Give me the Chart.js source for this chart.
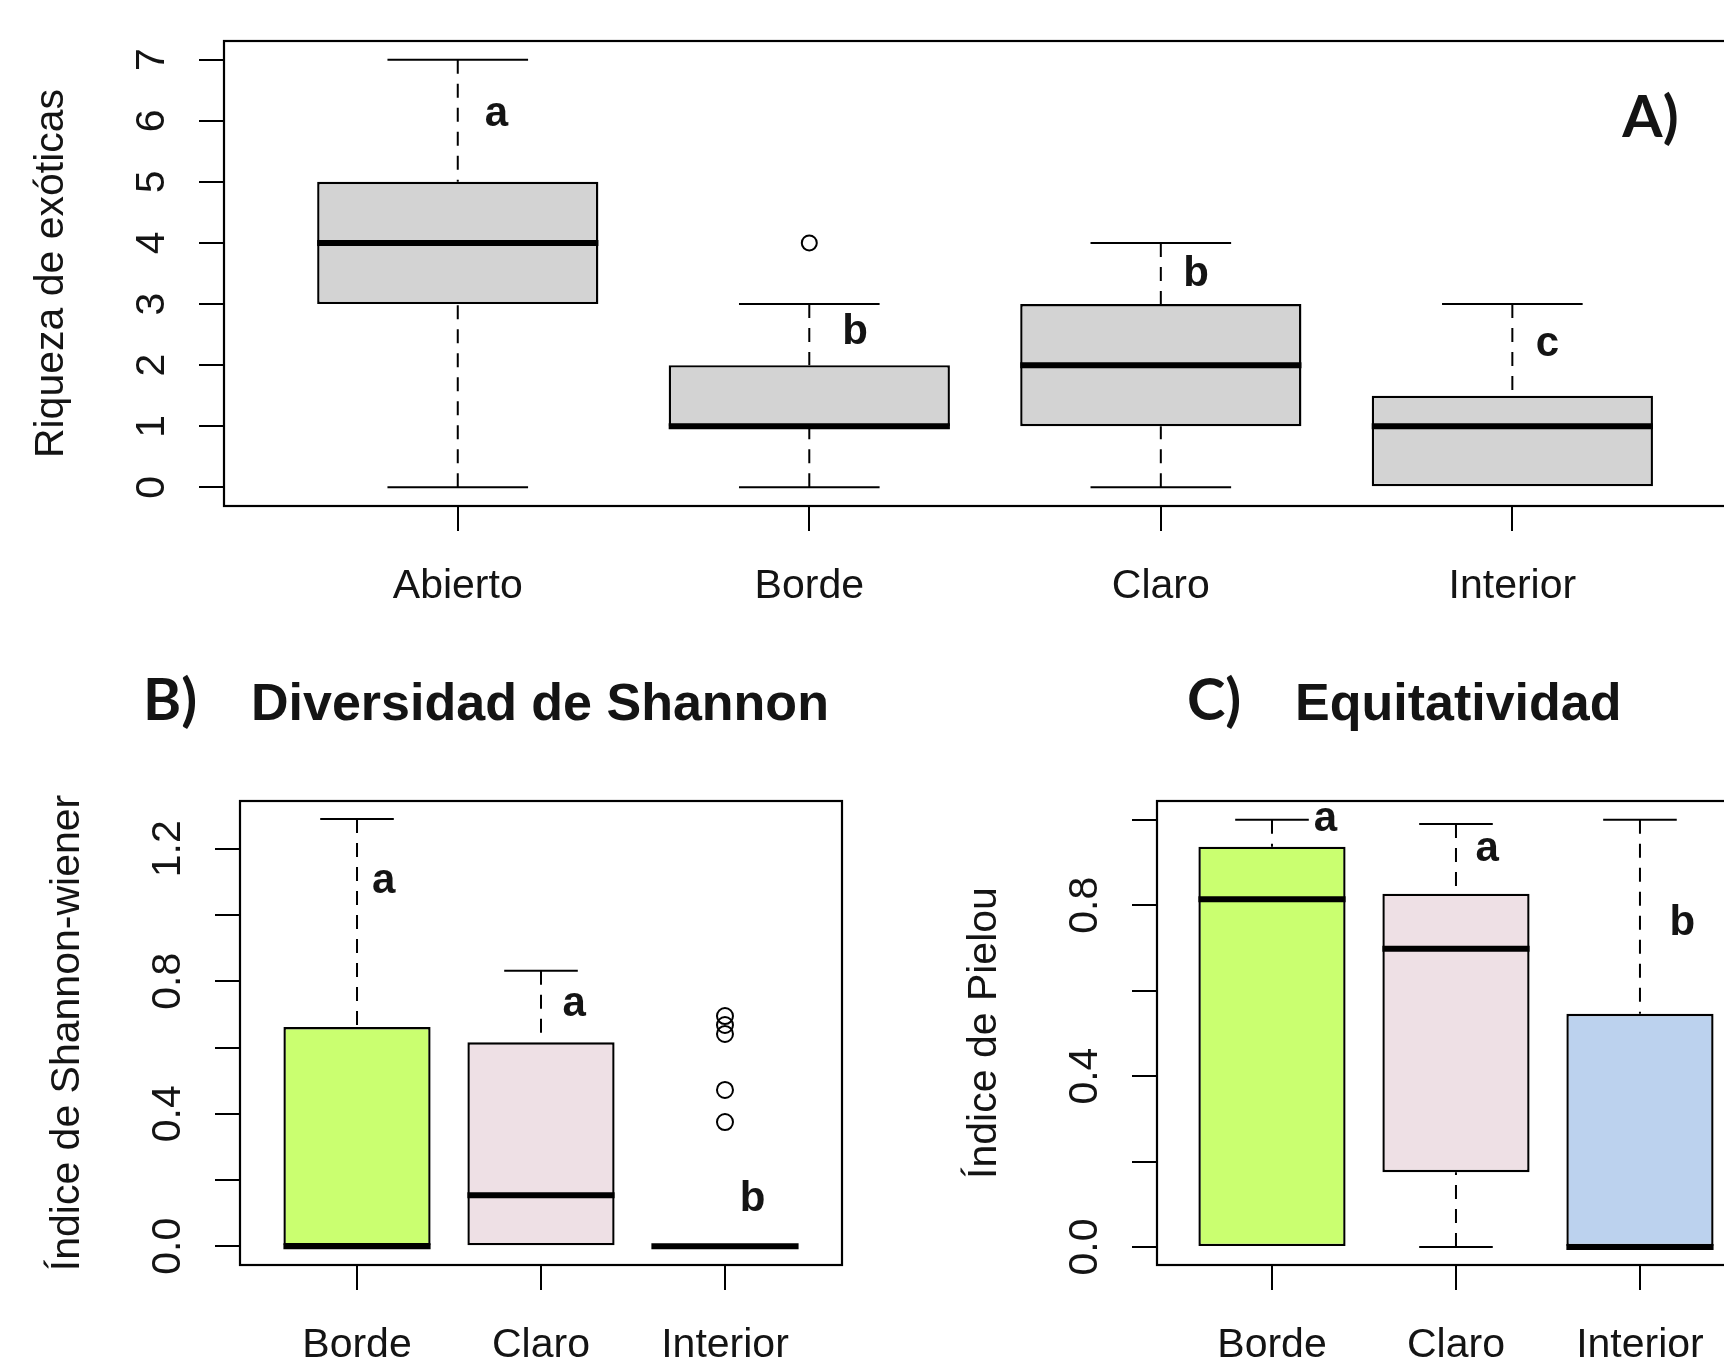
<!DOCTYPE html>
<html lang="es">
<head>
<meta charset="utf-8">
<title>Riqueza, diversidad y equitatividad</title>
<script src="https://cdn.jsdelivr.net/npm/chart.js@4.4.1/dist/chart.umd.min.js"></script>
<style>
    html, body { margin: 0; padding: 0; background: #fff; overflow: hidden; }
    #lienzo { position: relative; width: 1724px; height: 1361px; overflow: hidden; background: #fff; }
    #lienzo canvas { position: absolute; left: 0; top: 0; }
</style>
</head>
<body>
<div id="lienzo">
    <canvas id="grafA" width="1800" height="1361"></canvas>
    <canvas id="grafB" width="1800" height="1361"></canvas>
    <canvas id="grafC" width="1800" height="1361"></canvas>
</div>
<script>
// --- A) Riqueza de exóticas ---
const categoriasA = ['Abierto', 'Borde', 'Claro', 'Interior'];
const minA = [0, 0, 0, 0];
const q1A = [3, 1, 1, 0];
const medianaA = [4, 1, 2, 1];
const q3A = [5, 2, 3, 1.5];
const maxA = [7, 3, 4, 3];
const atipicosA = [[], [4], [], []];
const ticksA = [0, 1, 2, 3, 4, 5, 6, 7];
const etiquetasA = [0, 1, 2, 3, 4, 5, 6, 7];
const letrasA = ['a', 'b', 'b', 'c'];
const letrasAy = [6.1, 2.53, 3.48, 2.34];

// --- B) Diversidad de Shannon ---
const categoriasB = ['Borde', 'Claro', 'Interior'];
const minB = [0, 0, 0];
const q1B = [0, 0, 0];
const medianaB = [0, 0.154, 0];
const q3B = [0.662, 0.616, 0];
const maxB = [1.29, 0.832, 0];
const atipicosB = [[], [], [0.695, 0.668, 0.641, 0.472, 0.375]];
const ticksB = [0, 0.2, 0.4, 0.6, 0.8, 1.0, 1.2];
const etiquetasB = [0, 0.4, 0.8, 1.2];
const letrasB = ['a', 'a', 'b'];
const letrasBy = [1.10, 0.73, 0.14];

// --- C) Equitatividad ---
const categoriasC = ['Borde', 'Claro', 'Interior'];
const minC = [0, 0, 0];
const q1C = [0, 0.175, 0];
const medianaC = [0.814, 0.698, 0];
const q3C = [0.937, 0.827, 0.546];
const maxC = [1.0, 0.99, 1.0];
const atipicosC = [[], [], []];
const ticksC = [0, 0.2, 0.4, 0.6, 0.8, 1.0];
const etiquetasC = [0, 0.4, 0.8];
const letrasC = ['a', 'a', 'b'];
const letrasCy = [1.0, 0.93, 0.757];

const FUENTE = "'Liberation Sans', Arial, Helvetica, sans-serif";
const TINTA = '#141414';
const ANCHO = 1800, ALTO = 1361, ALTO_EJE_X = 30, ANCHO_EJE_Y = 40;

function linea(ctx, x1, y1, x2, y2) {
    ctx.beginPath();
    ctx.moveTo(x1, y1);
    ctx.lineTo(x2, y2);
    ctx.stroke();
}

function texto(ctx, s, x, y, fuente, opts = {}) {
    ctx.save();
    ctx.translate(x, y);
    if (opts.rot) ctx.rotate(opts.rot);
    ctx.font = fuente;
    ctx.fillStyle = opts.color || TINTA;
    ctx.textAlign = opts.align || 'center';
    ctx.textBaseline = opts.base || 'alphabetic';
    ctx.fillText(s, 0, 0);
    ctx.restore();
}

function crearPanel(id, p) {
    const n = p.categorias.length;
    const cajas = p.categorias.map((c, i) => ({ x: i + 1, y: [p.q1[i], p.q3[i]] }));
    const puntos = [];
    p.atipicos.forEach((lista, i) => lista.forEach(v => puntos.push({ x: i + 1, y: v })));

    // whiskers, medians, frame and all the text, placed through the chart's scales
    const dibujo = {
        id: 'cajas',
        afterDatasetsDraw(chart) {
            const { ctx, chartArea: a, scales: { x, y } } = chart;
            const u = x.getPixelForValue(1) - x.getPixelForValue(0);
            ctx.save();
            ctx.strokeStyle = '#000';
            ctx.lineCap = 'butt';
            for (let i = 0; i < n; i++) {
                const cx = x.getPixelForValue(i + 1);
                const yMax = y.getPixelForValue(p.max[i]);
                const yMin = y.getPixelForValue(p.min[i]);
                ctx.lineWidth = 2;
                ctx.setLineDash([14, 10]);
                if (p.max[i] > p.q3[i]) linea(ctx, cx, yMax, cx, y.getPixelForValue(p.q3[i]));
                if (p.min[i] < p.q1[i]) linea(ctx, cx, yMin, cx, y.getPixelForValue(p.q1[i]));
                ctx.setLineDash([]);
                linea(ctx, cx - 0.2 * u, yMax, cx + 0.2 * u, yMax);
                if (p.min[i] < p.q1[i]) linea(ctx, cx - 0.2 * u, yMin, cx + 0.2 * u, yMin);
                ctx.lineWidth = 6;
                const yMed = y.getPixelForValue(p.mediana[i]);
                linea(ctx, cx - 0.4 * u, yMed, cx + 0.4 * u, yMed);
            }
            ctx.lineWidth = 2.2;
            ctx.strokeRect(a.left, a.top, a.right - a.left, a.bottom - a.top);
            ctx.restore();

            const normal = '41px ' + FUENTE;
            p.etiquetas.forEach(v => {
                texto(ctx, v.toFixed(p.decimales), a.left - 60, y.getPixelForValue(v), normal,
                    { rot: -Math.PI / 2 });
            });
            texto(ctx, p.tituloY, a.left - 161, (a.top + a.bottom) / 2, normal, { rot: -Math.PI / 2 });
            p.categorias.forEach((c, i) => {
                texto(ctx, c, x.getPixelForValue(i + 1), a.bottom + 92, normal);
            });
            p.letras.forEach((l, i) => {
                texto(ctx, l, x.getPixelForValue(i + 1 + p.desplazLetras[i]), y.getPixelForValue(p.letrasY[i]),
                    'bold 42px ' + FUENTE, { base: 'middle' });
            });
            if (p.rotulo) p.rotulo(ctx, a, x);
        }
    };

    return new Chart(document.getElementById(id), {
        type: 'bar',
        data: {
            datasets: [{
                type: 'bar',
                data: cajas,
                backgroundColor: p.colores,
                borderColor: '#000',
                borderWidth: 2.4,
                borderSkipped: false,
                categoryPercentage: 1,
                barPercentage: 0.8,
                order: 2
            }, {
                type: 'scatter',
                data: puntos,
                pointStyle: 'circle',
                pointRadius: p.radio,
                pointBorderWidth: 2,
                pointBorderColor: '#000',
                pointBackgroundColor: 'rgba(0,0,0,0)',
                order: 1
            }]
        },
        options: {
            responsive: false,
            animation: false,
            devicePixelRatio: 1,
            events: [],
            layout: {
                padding: {
                    left: p.area.left - ANCHO_EJE_Y,
                    right: ANCHO - p.area.right,
                    top: p.area.top,
                    bottom: ALTO - ALTO_EJE_X - p.area.bottom
                }
            },
            plugins: { legend: { display: false }, tooltip: { enabled: false }, title: { display: false } },
            scales: {
                x: {
                    type: 'linear',
                    offset: false,
                    min: p.xMin,
                    max: p.xMax,
                    afterBuildTicks: s => { s.ticks = p.categorias.map((c, i) => ({ value: i + 1 })); },
                    afterFit: s => { s.height = ALTO_EJE_X; },
                    ticks: { display: false },
                    border: { display: false },
                    grid: { display: true, offset: false, drawOnChartArea: false, drawTicks: true, tickLength: 25,
                            tickWidth: 2, tickColor: '#000', lineWidth: 2, color: '#000' }
                },
                y: {
                    type: 'linear',
                    min: p.yMin,
                    max: p.yMax,
                    afterBuildTicks: s => { s.ticks = p.ticks.map(v => ({ value: v })); },
                    afterFit: s => { s.width = ANCHO_EJE_Y; },
                    ticks: { display: false },
                    border: { display: false },
                    grid: { display: true, drawOnChartArea: false, drawTicks: true, tickLength: 25,
                            tickWidth: 2, tickColor: '#000', lineWidth: 2, color: '#000' }
                }
            }
        },
        plugins: [dibujo]
    });
}

function rotuloPanel(letra, titulo) {
    return (ctx, a) => {
        texto(ctx, letra, a.left - 97, a.top - 81, "bold 58px Lato, 'Open Sans', sans-serif", { align: 'left' });
        texto(ctx, titulo, a.left + 11, a.top - 81, 'bold 52px ' + FUENTE, { align: 'left' });
    };
}

crearPanel('grafA', {
    categorias: categoriasA, min: minA, q1: q1A, mediana: medianaA, q3: q3A, max: maxA,
    atipicos: atipicosA, ticks: ticksA, etiquetas: etiquetasA, decimales: 0,
    letras: letrasA, letrasY: letrasAy, desplazLetras: [0.11, 0.13, 0.10, 0.10],
    colores: '#D3D3D3', radio: 7.5,
    tituloY: 'Riqueza de exóticas',
    area: { left: 224, right: 1744, top: 41, bottom: 506 },
    xMin: 0.335, xMax: 4.659, yMin: -0.305, yMax: 7.305,
    rotulo: (ctx, a, x) => {
        texto(ctx, 'A)', x.getPixelForValue(4) + 110, a.top + 96, "bold 58px Lato, 'Open Sans', sans-serif", { align: 'left' });
    }
});

crearPanel('grafB', {
    categorias: categoriasB, min: minB, q1: q1B, mediana: medianaB, q3: q3B, max: maxB,
    atipicos: atipicosB, ticks: ticksB, etiquetas: etiquetasB, decimales: 1,
    letras: letrasB, letrasY: letrasBy, desplazLetras: [0.145, 0.18, 0.15],
    colores: ['#CAFF70', '#EEE0E5', '#BCD2EE'], radio: 8,
    tituloY: 'Índice de Shannon-wiener',
    area: { left: 240, right: 842, top: 801, bottom: 1265 },
    xMin: 0.364, xMax: 3.636, yMin: -0.0565, yMax: 1.3442,
    rotulo: rotuloPanel('B)', 'Diversidad de Shannon')
});

crearPanel('grafC', {
    categorias: categoriasC, min: minC, q1: q1C, mediana: medianaC, q3: q3C, max: maxC,
    atipicos: atipicosC, ticks: ticksC, etiquetas: etiquetasC, decimales: 1,
    letras: letrasC, letrasY: letrasCy, desplazLetras: [0.29, 0.17, 0.23],
    colores: ['#CAFF70', '#EEE0E5', '#BCD2EE'], radio: 8,
    tituloY: 'Índice de Pielou',
    area: { left: 1157, right: 1766, top: 801, bottom: 1265 },
    xMin: 0.375, xMax: 3.685, yMin: -0.042, yMax: 1.0438,
    rotulo: (ctx, a) => {
        texto(ctx, 'C)', a.left + 30, a.top - 81, "bold 58px Lato, 'Open Sans', sans-serif", { align: 'left' });
        texto(ctx, 'Equitatividad', a.left + 138, a.top - 81, 'bold 52px ' + FUENTE, { align: 'left' });
    }
});
</script>
</body>
</html>
